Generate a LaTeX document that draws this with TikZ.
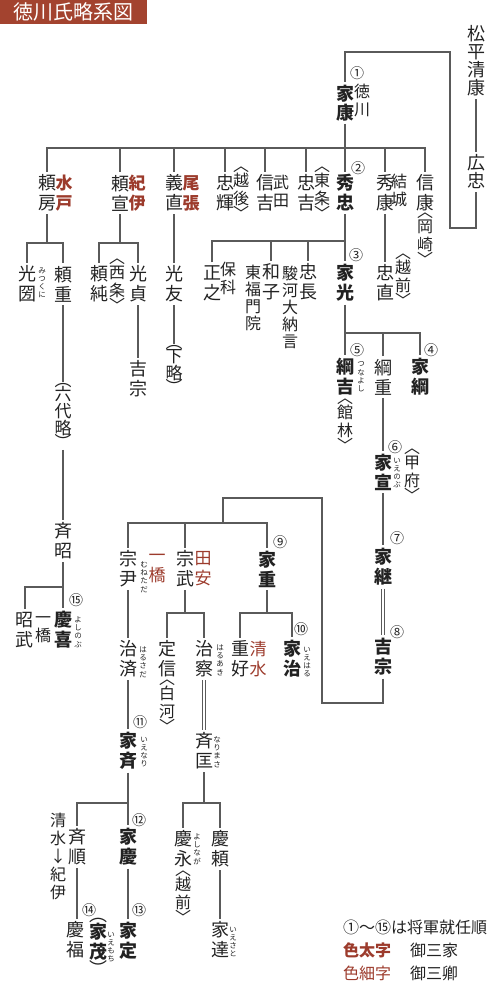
\documentclass[tikz,border=0pt]{standalone}
\usepackage{fontspec}
\setmainfont{Noto Sans CJK JP}
\definecolor{clanred}{HTML}{9C3B2C}
\definecolor{bandred}{HTML}{A3432F}
\definecolor{inkdark}{HTML}{222222}
\definecolor{linegray}{HTML}{5A5A5A}
\newcommand{\vbrk}[2]{︿\\[-3pt]#1\\#2\\[-3pt]﹀}
\newcommand{\vparen}[1]{︵\\[-3pt]#1\\[-3pt]︶}

\begin{document}
\begin{tikzpicture}[
    x=1pt, y=-1pt,
    nm/.style={
      inner sep=1pt, outer sep=2pt, align=center,
      text=inkdark, font=\fontsize{18}{20}\selectfont,
    },
    shogun/.style={nm, font=\fontsize{18}{20}\selectfont\bfseries},
    sidelab/.style={
      inner sep=1pt, align=center,
      text=inkdark, font=\fontsize{16}{18}\selectfont,
    },
    sanke/.style={sidelab, text=clanred, font=\fontsize{17}{20}\selectfont\bfseries},
    sankyo/.style={sidelab, text=clanred, font=\fontsize{17}{20}\selectfont},
    ruby/.style={inner sep=0pt, align=center, text=inkdark, font=\fontsize{7.5}{8.2}\selectfont},
    ordnum/.style={inner sep=0pt, text=inkdark, font=\fontsize{14}{14}\selectfont},
    ln/.style={draw=linegray, line width=1.8pt},
    adopt/.style={draw=linegray, line width=0.9pt, double=white, double distance=1.6pt},
  ]
  \useasboundingbox (0,0) rectangle (500,987);

  % ---- Title ----
  \node[fill=bandred, text=white, minimum width=147pt, minimum height=24pt, inner sep=0pt,
        font=\fontsize{20}{20}\selectfont] (title) at (73.5,12) {徳川氏略系図};

  % ---- Matsudaira ----
  \node[nm, font=\fontsize{18}{18}\selectfont] (kiyoyasu) at (476,61) {松\\平\\清\\康};
  \node[nm, font=\fontsize{18}{18}\selectfont] (hirotada) at (476,172) {広\\忠};
  \node[shogun, font=\fontsize{18}{18.5}\selectfont\bfseries] (ieyasu) at (345,103) {家\\康};
  \node[sidelab] (tokugawa) at (362,100) {徳\\川};
  \node[ordnum] (n1) at (357,73) {①};
  \coordinate (k1) at (450,228);
  \coordinate (k2) at (450,52);
  \draw[ln] (kiyoyasu) -- (hirotada);
  \draw[ln] (hirotada.south) |- (k1) -- (k2) -| (ieyasu.north);

  % ---- Ieyasu's sons ----
  \node[nm] (yorifusa) at (47,193) {頼\\房};
  \node[sanke] (mito) at (64,193) {水\\戸};
  \node[nm] (yorinobu) at (120,193) {頼\\宣};
  \node[sanke] (kii) at (137,193) {紀\\伊};
  \node[nm] (yoshinao) at (174,193) {義\\直};
  \node[sanke] (owari) at (191,193) {尾\\張};
  \node[nm] (tadateru) at (225,193) {忠\\輝};
  \node[sidelab] (echigo) at (241,193) {\vbrk{越}{後}};
  \node[nm] (nobuyoshi) at (265,193) {信\\吉};
  \node[sidelab] (takeda) at (281,191) {武\\田};
  \node[nm] (tadayoshi) at (306,193) {忠\\吉};
  \node[sidelab] (tojo) at (322,193) {\vbrk{東}{条}};
  \node[shogun] (hidetada) at (345,193) {秀\\忠};
  \node[ordnum] (n2) at (358,168) {②};
  \node[nm] (hideyasu) at (385,193) {秀\\康};
  \node[sidelab] (yuki) at (399,190) {結\\城};
  \node[nm] (nobuyasu) at (425,193) {信\\康};
  \node[sidelab] (okazaki) at (425,239) {\vbrk{岡}{崎}};

  \coordinate (r1) at (345,148);
  \draw[ln] (ieyasu) -- (hidetada);
  \draw[ln] (yorifusa.north) |- (r1) -| (nobuyasu.north);
  \foreach \s in {yorinobu,yoshinao,tadateru,nobuyoshi,tadayoshi,hideyasu}
    \draw[ln] (\s.north) -- (\s.north |- r1);

  % ---- Mito / Kii / Owari ----
  \coordinate (r2) at (47,243);
  \node[nm] (mitsukuni) at (27,284) {光\\圀};
  \node[ruby] (mitsukuni-r) at (42,283) {み\\つ\\く\\に};
  \node[nm] (yorishige) at (63,284) {頼\\重};
  \draw[ln] (yorifusa) -- (r2);
  \draw[ln] (mitsukuni.north) |- (r2) -| (yorishige.north);

  \coordinate (r3) at (120,243);
  \node[nm] (yorizumi) at (99,284) {頼\\純};
  \node[sidelab] (saijo) at (117,285) {\vbrk{西}{条}};
  \node[nm] (mitsusada) at (138,284) {光\\貞};
  \draw[ln] (yorinobu) -- (r3);
  \draw[ln] (yorizumi.north) |- (r3) -| (mitsusada.north);

  \node[nm] (mitsutomo) at (174,284) {光\\友};
  \draw[ln] (yoshinao) -- (mitsutomo);

  % ---- Hidetada's children ----
  \coordinate (r4) at (345,241);
  \node[nm] (masayuki) at (212,283) {正\\之};
  \node[sidelab] (hoshina) at (228,278) {保\\科};
  \node[sidelab, font=\fontsize{16}{17}\selectfont] (tofuku) at (253,298) {東\\福\\門\\院};
  \node[nm] (kazuko) at (271,282) {和\\子};
  \node[sidelab, font=\fontsize{16}{17}\selectfont] (suruga) at (290,307) {駿\\河\\大\\納\\言};
  \node[nm] (tadanaga) at (308,282) {忠\\長};
  \node[shogun] (iemitsu) at (345,283) {家\\光};
  \node[ordnum] (n3) at (356,255) {③};
  \draw[ln] (hidetada) -- (iemitsu);
  \draw[ln] (masayuki.north) |- (r4);
  \foreach \s in {kazuko,tadanaga}
    \draw[ln] (\s.north) -- (\s.north |- r4);

  \node[nm] (tadanao) at (385,283) {忠\\直};
  \node[sidelab] (echizen) at (403,280) {\vbrk{越}{前}};
  \draw[ln] (hideyasu) -- (tadanao);

  % ---- abridged lines ----
  \node[sidelab, font=\fontsize{17}{17}\selectfont] (rokudai) at (63,416) {\vparen{六\\代\\略}};
  \node[nm] (nariaki) at (63,541) {斉\\昭};
  \draw[ln] (yorishige) -- (rokudai);
  \draw[ln] (rokudai) -- (nariaki);

  \node[nm] (kiiyoshimune) at (138,379) {吉\\宗};
  \draw[ln] (mitsusada) -- (kiiyoshimune);

  \node[sidelab, font=\fontsize{17}{17}\selectfont] (geryaku) at (174,369) {\vparen{下\\略}};
  \draw[ln] (mitsutomo) -- (geryaku);

  % ---- Iemitsu's sons ----
  \coordinate (r5) at (345,333);
  \node[shogun] (tsunayoshi) at (345,377) {綱\\吉};
  \node[ruby] (tsunayoshi-r) at (361,377) {つ\\な\\よ\\し};
  \node[ordnum] (n5) at (357,350) {⑤};
  \node[sidelab] (tatebayashi) at (345,425) {\vbrk{館}{林}};
  \node[nm] (tsunashige) at (383,377) {綱\\重};
  \node[shogun] (ietsuna) at (420,377) {家\\綱};
  \node[ordnum] (n4) at (431,350) {④};
  \draw[ln] (iemitsu) -- (tsunayoshi);
  \draw[ln] (r5) -| (ietsuna.north);
  \draw[ln] (tsunashige.north) -- (tsunashige.north |- r5);

  % ---- Ienobu to Yoshimune ----
  \node[shogun] (ienobu) at (383,472) {家\\宣};
  \node[ordnum] (n6) at (395,447) {⑥};
  \node[ruby] (ienobu-r) at (397,473) {い\\え\\の\\ぶ};
  \node[sidelab] (kofu) at (412,475) {\vbrk{甲}{府}};
  \node[shogun] (ietsugu) at (383,567) {家\\継};
  \node[ordnum] (n7) at (397,538) {⑦};
  \node[shogun] (yoshimune) at (383,657) {吉\\宗};
  \node[ordnum] (n8) at (397,632) {⑧};
  \draw[ln] (tsunashige) -- (ienobu);
  \draw[ln] (ienobu) -- (ietsugu);
  \draw[adopt] (ietsugu) -- (yoshimune);

  % ---- Yoshimune's sons ----
  \coordinate (y1) at (322,703);
  \coordinate (y2) at (322,498);
  \coordinate (r6) at (223,523);
  \node[nm] (munetada) at (128,569) {宗\\尹};
  \node[ruby] (munetada-r) at (144,577) {む\\ね\\た\\だ};
  \node[sankyo] (hitotsubashi) at (157,569) {一\\橋};
  \node[nm] (munetake) at (185,569) {宗\\武};
  \node[sankyo] (tayasu) at (203,569) {田\\安};
  \node[shogun] (ieshige) at (267,569) {家\\重};
  \node[ordnum] (n9) at (280,542) {⑨};
  \draw[ln] (yoshimune.south) |- (y1) -- (y2) -| (r6);
  \draw[ln] (munetada.north) |- (r6) -| (ieshige.north);
  \draw[ln] (munetake.north) -- (munetake.north |- r6);

  % ---- Nariaki's sons ----
  \coordinate (r7) at (63,587);
  \node[nm] (akitake) at (25,630) {昭\\武};
  \node[sidelab] (hitotsu2) at (43,630) {一\\橋};
  \node[shogun] (yoshinobu) at (63,630) {慶\\喜};
  \node[ordnum] (n15) at (76,600) {⑮};
  \node[ruby] (yoshinobu-r) at (78,632) {よ\\し\\の\\ぶ};
  \draw[ln] (nariaki) -- (yoshinobu);
  \draw[ln] (akitake.north) |- (r7);

  % ---- Sankyo heirs ----
  \node[nm] (harusada) at (128,659) {治\\済};
  \node[ruby] (harusada-r) at (143,662) {は\\る\\さ\\だ};
  \coordinate (r8) at (185,613);
  \node[nm] (sadanobu) at (167,659) {定\\信};
  \node[sidelab] (shirakawa) at (167,706) {\vbrk{白}{河}};
  \node[nm] (harusato) at (204,659) {治\\察};
  \node[ruby] (harusato-r) at (220,660) {は\\る\\あ\\き};
  \coordinate (r9) at (267,613);
  \node[nm] (shigeyoshi) at (240,659) {重\\好};
  \node[sankyo] (shimizu) at (258,659) {清\\水};
  \node[shogun] (ieharu) at (292,659) {家\\治};
  \node[ordnum] (n10) at (301,629) {⑩};
  \node[ruby] (ieharu-r) at (307,662) {い\\え\\は\\る};
  \draw[ln] (munetada) -- (harusada);
  \draw[ln] (munetake) -- (r8);
  \draw[ln] (sadanobu.north) |- (r8) -| (harusato.north);
  \draw[ln] (ieshige) -- (r9);
  \draw[ln] (shigeyoshi.north) |- (r9) -| (ieharu.north);

  \node[shogun] (ienari) at (128,751) {家\\斉};
  \node[ordnum] (n11) at (140,722) {⑪};
  \node[ruby] (ienari-r) at (144,752) {い\\え\\な\\り};
  \node[nm] (narimasa) at (204,751) {斉\\匡};
  \node[ruby] (narimasa-r) at (217,752) {な\\り\\ま\\さ};
  \draw[ln] (harusada) -- (ienari);
  \draw[adopt] (harusato) -- (narimasa);

  % ---- Ienari / Narimasa sons ----
  \coordinate (r10) at (128,803);
  \node[sidelab, font=\fontsize{16}{18}\selectfont] (kishu) at (58,856) {清\\水\\↓\\紀\\伊};
  \node[nm] (narimichi) at (77,847) {斉\\順};
  \node[shogun] (ieyoshi) at (128,847) {家\\慶};
  \node[ordnum] (n12) at (139,820) {⑫};
  \coordinate (r11) at (204,803);
  \node[nm] (yoshinaga) at (183,849) {慶\\永};
  \node[ruby] (yoshinaga-r) at (197,849) {よ\\し\\な\\が};
  \node[sidelab] (echizen2) at (183,897) {\vbrk{越}{前}};
  \node[nm] (yoshiyori) at (220,849) {慶\\頼};
  \draw[ln] (ienari) -- (ieyoshi);
  \draw[ln] (narimichi.north) |- (r10);
  \draw[ln] (narimasa) -- (r11);
  \draw[ln] (yoshinaga.north) |- (r11) -| (yoshiyori.north);

  \node[nm] (yoshitomi) at (75,940) {慶\\福};
  \node[ordnum] (n14) at (89,910) {⑭};
  \node[nm] (iemochi) at (98,947) {︵\\[-3pt]\textbf{家}\\\textbf{茂}\\[-3pt]︶};
  \node[ruby] (iemochi-r) at (111,947) {い\\え\\も\\ち};
  \node[shogun] (iesada) at (128,941) {家\\定};
  \node[ordnum] (n13) at (139,910) {⑬};
  \node[nm] (iesato) at (220,940) {家\\達};
  \node[ruby] (iesato-r) at (233,942) {い\\え\\さ\\と};
  \draw[ln] (narimichi.south) -- (narimichi.south |- yoshitomi.north);
  \draw[ln] (ieyoshi) -- (iesada);
  \draw[ln] (yoshiyori) -- (iesato);

  % ---- Legend ----
  \node[anchor=west, inner sep=0pt, text=inkdark, font=\fontsize{16}{16}\selectfont] (leg1) at (343,927) {①〜⑮は将軍就任順};
  \node[anchor=west, inner sep=0pt, text=clanred, font=\fontsize{16}{16}\selectfont\bfseries] (leg2) at (343,950) {色太字};
  \node[anchor=west, inner sep=0pt, text=inkdark, font=\fontsize{16}{16}\selectfont] (leg2b) at (410,950) {御三家};
  \node[anchor=west, inner sep=0pt, text=clanred, font=\fontsize{16}{16}\selectfont] (leg3) at (343,973) {色細字};
  \node[anchor=west, inner sep=0pt, text=inkdark, font=\fontsize{16}{16}\selectfont] (leg3b) at (410,973) {御三卿};
\end{tikzpicture}
\end{document}
